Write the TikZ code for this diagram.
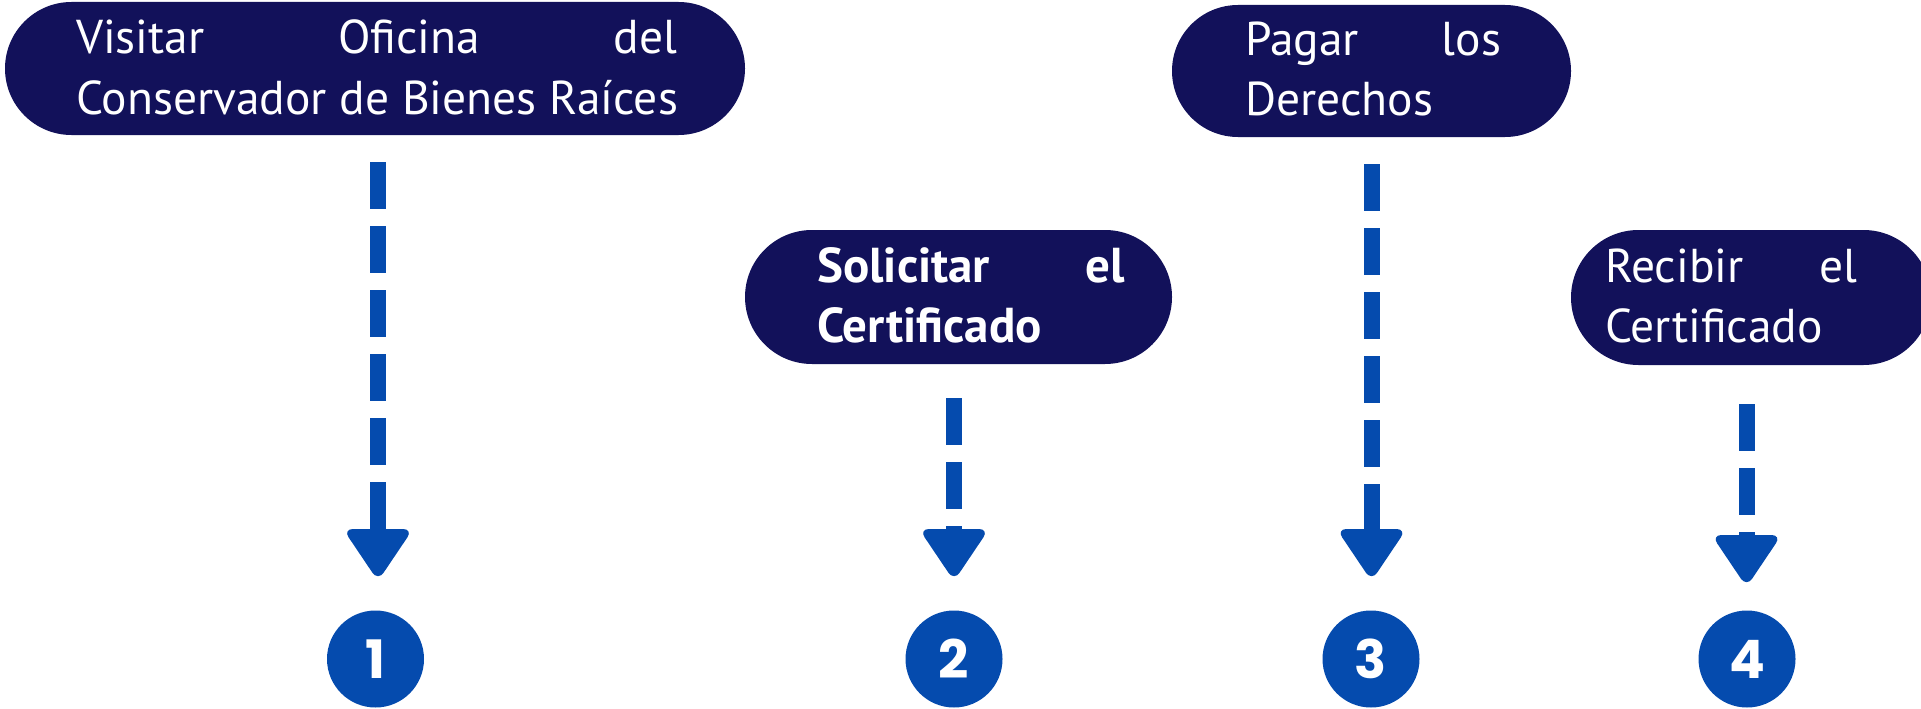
\documentclass[tikz,border=0pt]{standalone}
\usepackage{fontspec}
\setmainfont{PT Sans}
\newfontfamily\numfont{Poppins}
\definecolor{navy}{HTML}{12115A}
\definecolor{stepblue}{HTML}{054BAE}
\tikzset{
  pill/.style={fill=navy, rectangle, rounded corners=#1, inner sep=0pt},
  boxtext/.style={text=white, anchor=base west, inner sep=0pt, font=\fontsize{47.5}{60}\selectfont},
  dashline/.style={draw=stepblue, line width=16pt, dash pattern=on 47pt off 17pt},
  headtip/.style={fill=stepblue, rounded corners=10pt},
  numcircle/.style={circle, fill=stepblue, minimum size=97pt, inner sep=0pt, text=white, font=\numfont\bfseries\fontsize{53}{53}\selectfont}
}
\begin{document}
\begin{tikzpicture}[x=1pt,y=-1pt]
\useasboundingbox (0,0) rectangle (1921,709);
% boxes
\node[pill=66.5pt, minimum width=740pt, minimum height=133pt] (b1) at (375,68.5) {};
\node[pill=66pt, minimum width=399pt, minimum height=132pt] (b3) at (1371.5,71) {};
\node[pill=67pt, minimum width=427pt, minimum height=134pt] (b2) at (958.5,297) {};
\node[pill=67.5pt, minimum width=360pt, minimum height=135pt] (b4) at (1751,297.5) {};
% texts
\node[boxtext] (t1) at (76,54) {\vtop{\baselineskip=60pt\hbox to 601pt{Visitar\hfill Oficina\hfill del}\hbox{Conservador de Bienes Raíces}}};
\node[boxtext] (t3) at (1245,56) {\vtop{\baselineskip=60pt\hbox to 256pt{Pagar\hfill los}\hbox{Derechos}}};
\node[boxtext, font=\bfseries\fontsize{49}{60}\selectfont] (t2) at (817,282) {\vtop{\baselineskip=60pt\hbox to 308pt{Solicitar\hfill el}\hbox{Certificado}}};
\node[boxtext] (t4) at (1605,282) {\vtop{\baselineskip=60pt\hbox to 252pt{Recibir\hfill el}\hbox{Certificado}}};
% arrow coordinates
\coordinate (a1s) at (378,162);  \coordinate (a1e) at (378,529);
\coordinate (a2s) at (954,398);  \coordinate (a2e) at (954,529);
\coordinate (a3s) at (1371.5,164); \coordinate (a3e) at (1371.5,529);
\coordinate (a4s) at (1746.5,404); \coordinate (a4e) at (1746.5,535);
\foreach \a in {a1,a2,a3,a4}{
  \draw[dashline] (\a s) -- (\a e);
  \fill[headtip] ([xshift=-35pt]\a e) -- ([xshift=35pt]\a e) -- ([yshift=-52pt]\a e) -- cycle;
}
% circles
\node[numcircle] (c1) at (375.5,659) {1};
\node[numcircle] (c2) at (954,659) {2};
\node[numcircle] (c3) at (1371,659) {3};
\node[numcircle] (c4) at (1747,659) {4};
\end{tikzpicture}
\end{document}
